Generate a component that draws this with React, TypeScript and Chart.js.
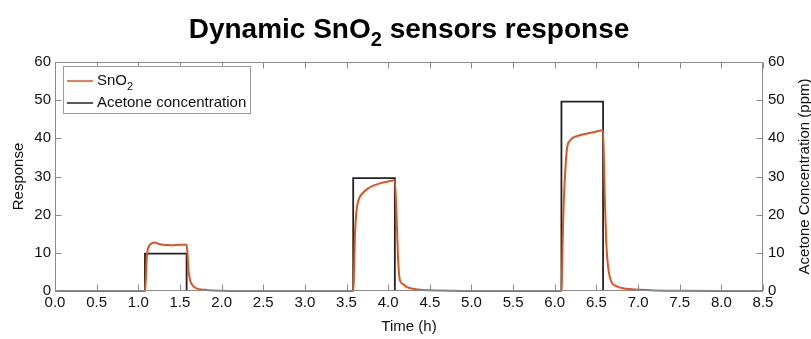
import React, { useEffect, useRef } from "react";
import { Chart, registerables } from "chart.js";

Chart.register(...registerables);

const chartTitleMain = "Dynamic SnO";
const chartTitleSub = "2";
const chartTitleRest = " sensors response";
const xAxisTitle = "Time (h)";
const yLeftTitle = "Response";
const yRightTitle = "Acetone Concentration (ppm)";
const legendSnMain = "SnO";
const legendSnSub = "2";
const legendAcetone = "Acetone concentration";

// Acetone concentration (ppm) square pulses
const acetoneTime = [0, 1.08, 1.08, 1.58, 1.58, 3.58, 3.58, 4.08, 4.08, 6.08, 6.08, 6.58, 6.58, 8.5];
const acetoneValue = [0, 0, 9.8, 9.8, 0, 0, 29.6, 29.6, 0, 0, 49.6, 49.6, 0, 0];

// SnO2 sensor response
const snTime = [
  0, 1.08, 1.09, 1.1, 1.11, 1.13, 1.16, 1.2, 1.24, 1.3, 1.4, 1.5, 1.58,
  1.59, 1.6, 1.62, 1.65, 1.7, 1.8, 1.9, 2.0, 2.2, 3.58,
  3.59, 3.6, 3.62, 3.64, 3.66, 3.7, 3.76, 3.82, 3.9, 4.0, 4.08,
  4.1, 4.12, 4.14, 4.18, 4.22, 4.3, 4.38, 4.5, 4.62, 4.8, 5.0, 6.08,
  6.09, 6.1, 6.12, 6.15, 6.18, 6.22, 6.3, 6.42, 6.5, 6.58,
  6.6, 6.62, 6.64, 6.68, 6.74, 6.82, 6.92, 7.02, 7.2, 7.5, 8.0, 8.5,
];
const snValue = [
  0, 0, 3, 8, 10.5, 11.8, 12.5, 12.7, 12.4, 12.1, 12.0, 12.1, 12.1,
  10, 6, 3, 1.5, 0.7, 0.3, 0.1, 0.05, 0, 0,
  5, 14, 21, 23.5, 24.7, 25.8, 26.9, 27.6, 28.2, 28.7, 29.0,
  20, 8, 2.9, 1.8, 1.1, 0.6, 0.35, 0.2, 0.1, 0.05, 0, 0,
  8, 18, 29, 37.8, 39.3, 40.2, 40.8, 41.4, 41.8, 42.1,
  25, 12, 6.4, 2.4, 1.3, 0.7, 0.45, 0.3, 0.15, 0.05, 0, 0,
];

const xMin = 0;
const xMax = 8.5;
const xStep = 0.5;
const yMin = 0;
const yMax = 60;
const yStep = 10;

const FONT = "Arial, 'Liberation Sans', Helvetica, sans-serif";
const ORANGE = "#DE5520";
const BLACK = "#222222";
const FRAME = "#8a8a8a";

const decorPlugin = {
  id: "decor",
  afterDatasetsDraw(chart: any) {
    const { ctx, chartArea: a, scales } = chart;
    ctx.save();
    // frame
    ctx.strokeStyle = FRAME;
    ctx.lineWidth = 1;
    const L = Math.round(a.left) + 0.5;
    const R = Math.round(a.right) - 0.5;
    const T = Math.round(a.top) + 0.5;
    const B = Math.round(a.bottom) - 0.5;
    ctx.beginPath();
    ctx.rect(L, T, R - L, B - T);
    ctx.stroke();
    // inward ticks
    const tl = 6;
    ctx.beginPath();
    scales.x.ticks.forEach((t: any) => {
      const px = Math.round(scales.x.getPixelForValue(t.value)) + 0.5;
      ctx.moveTo(px, B);
      ctx.lineTo(px, B - tl);
      ctx.moveTo(px, T);
      ctx.lineTo(px, T + tl);
    });
    scales.y.ticks.forEach((t: any) => {
      const py = Math.round(scales.y.getPixelForValue(t.value)) + 0.5;
      ctx.moveTo(L, py);
      ctx.lineTo(L + tl, py);
    });
    scales.y1.ticks.forEach((t: any) => {
      const py = Math.round(scales.y1.getPixelForValue(t.value)) + 0.5;
      ctx.moveTo(R, py);
      ctx.lineTo(R - tl, py);
    });
    ctx.stroke();

    // legend
    const lx = a.left + 8;
    const ly = a.top + 4;
    const lw = 187;
    const lh = 47;
    ctx.fillStyle = "#ffffff";
    ctx.fillRect(lx, ly, lw, lh);
    ctx.strokeStyle = "#9a9a9a";
    ctx.lineWidth = 1;
    ctx.strokeRect(lx + 0.5, ly + 0.5, lw, lh);
    const rows = [
      { color: ORANGE, y: ly + 15 },
      { color: BLACK, y: ly + 37 },
    ];
    rows.forEach((r) => {
      ctx.strokeStyle = r.color;
      ctx.lineWidth = 1.5;
      ctx.beginPath();
      ctx.moveTo(lx + 4, r.y);
      ctx.lineTo(lx + 30, r.y);
      ctx.stroke();
    });
    ctx.fillStyle = "#111111";
    ctx.textBaseline = "middle";
    ctx.textAlign = "left";
    ctx.font = `15px ${FONT}`;
    ctx.fillText(legendSnMain, lx + 34, rows[0].y);
    const w1 = ctx.measureText(legendSnMain).width;
    ctx.font = `11px ${FONT}`;
    ctx.fillText(legendSnSub, lx + 34 + w1, rows[0].y + 6);
    ctx.font = `15px ${FONT}`;
    ctx.fillText(legendAcetone, lx + 34, rows[1].y);

    // right axis title (reads bottom-to-top)
    ctx.save();
    ctx.translate(805, (a.top + a.bottom) / 2);
    ctx.rotate(-Math.PI / 2);
    ctx.textAlign = "center";
    ctx.textBaseline = "middle";
    ctx.font = `15px ${FONT}`;
    ctx.fillStyle = "#111111";
    ctx.fillText(yRightTitle, 0, 0);
    ctx.restore();

    // chart title with subscript
    ctx.font = `bold 28px ${FONT}`;
    const wm = ctx.measureText(chartTitleMain).width;
    const wr = ctx.measureText(chartTitleRest).width;
    ctx.font = `bold 20px ${FONT}`;
    const ws = ctx.measureText(chartTitleSub).width;
    const total = wm + ws + wr;
    const x0 = (a.left + a.right) / 2 - total / 2;
    const baseY = 38;
    ctx.textBaseline = "alphabetic";
    ctx.textAlign = "left";
    ctx.fillStyle = "#000000";
    ctx.font = `bold 28px ${FONT}`;
    ctx.fillText(chartTitleMain, x0, baseY);
    ctx.font = `bold 20px ${FONT}`;
    ctx.fillText(chartTitleSub, x0 + wm, baseY + 8);
    ctx.font = `bold 28px ${FONT}`;
    ctx.fillText(chartTitleRest, x0 + wm + ws, baseY);
    ctx.restore();
  },
};

export default function App() {
  const ref = useRef<HTMLCanvasElement | null>(null);
  useEffect(() => {
    document.body.style.margin = "0";
    if (!ref.current) return;
    const sn = snTime.map((t, i) => ({ x: t, y: snValue[i] }));
    const ac = acetoneTime.map((t, i) => ({ x: t, y: acetoneValue[i] }));
    const chart = new Chart(ref.current, {
      type: "line",
      data: {
        datasets: [
          {
            label: "SnO2",
            data: sn,
            borderColor: ORANGE,
            borderWidth: 2,
            pointRadius: 0,
            cubicInterpolationMode: "monotone",
            borderJoinStyle: "round",
            clip: 3,
            yAxisID: "y",
          },
          {
            label: "Acetone concentration",
            data: ac,
            borderColor: BLACK,
            borderWidth: 1.8,
            pointRadius: 0,
            tension: 0,
            borderJoinStyle: "miter",
            yAxisID: "y1",
          },
        ],
      },
      options: {
        animation: false,
        responsive: false,
        layout: { padding: { top: 62, left: 0, right: 0, bottom: 0 } },
        plugins: {
          legend: { display: false },
          title: { display: false },
          tooltip: { enabled: false },
        },
        scales: {
          x: {
            type: "linear",
            min: xMin,
            max: xMax,
            grid: { display: false, drawTicks: false },
            border: { display: false },
            ticks: {
              stepSize: xStep,
              padding: 3,
              color: "#111111",
              font: { family: FONT, size: 15 },
              maxRotation: 0,
              autoSkip: false,
              callback: (v: any) => Number(v).toFixed(1),
            },
            title: {
              display: true,
              text: xAxisTitle,
              color: "#111111",
              font: { family: FONT, size: 15 },
              padding: { top: 0, bottom: 3 },
            },
            afterFit: (s: any) => {
              s.height = 48;
            },
          },
          y: {
            type: "linear",
            position: "left",
            min: yMin,
            max: yMax,
            grid: { display: false, drawTicks: false },
            border: { display: false },
            ticks: {
              stepSize: yStep,
              padding: 4,
              color: "#111111",
              font: { family: FONT, size: 15 },
            },
            title: {
              display: true,
              text: yLeftTitle,
              color: "#111111",
              font: { family: FONT, size: 15 },
              padding: { top: 10, bottom: 0 },
            },
            afterFit: (s: any) => {
              s.width = 55;
            },
          },
          y1: {
            type: "linear",
            position: "right",
            min: yMin,
            max: yMax,
            grid: { display: false, drawTicks: false },
            border: { display: false },
            ticks: {
              stepSize: yStep,
              padding: 5,
              color: "#111111",
              font: { family: FONT, size: 15 },
            },
            afterFit: (s: any) => {
              s.width = 48;
            },
          },
        },
      } as any,
      plugins: [decorPlugin],
    });
    return () => chart.destroy();
  }, []);
  return (
    <div style={{ width: 811, height: 339 }}>
      <canvas ref={ref} width={811} height={339} style={{ display: "block" }} />
    </div>
  );
}
